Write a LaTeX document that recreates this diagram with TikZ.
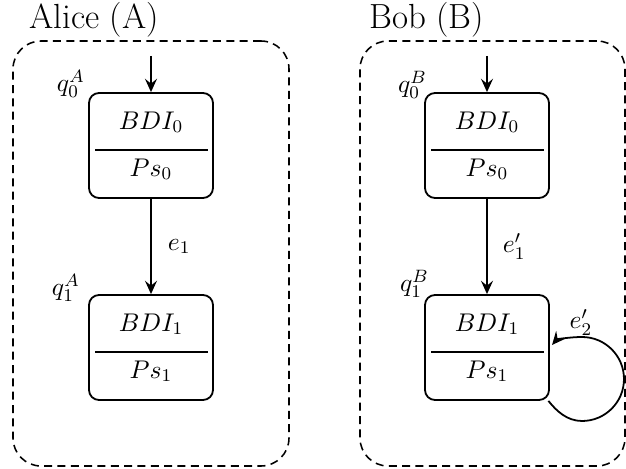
\RequirePackage{fix-cm}
\documentclass[tikz,border=0pt]{standalone}
\usepackage{fontspec}
\usetikzlibrary{arrows.meta,calc}
\newcommand\mkstate[3]{%
  \node[state] (#1) at (#2) {};
  \node[mtext, anchor=base] (#1top) at ($(#1.north)+(0,37)$) {$BDI_{#3}$};
  \node[mtext, anchor=base] (#1bot) at ($(#1.north)+(0,84)$) {$Ps_{#3}$};
  \draw[divider] ($(#1.west)+(7,4.5)$) -- ($(#1.east)+(-6,4.5)$);
}
\begin{document}
\begin{tikzpicture}[x=0.45pt,y=-0.45pt,
  state/.style={draw, line width=0.8pt, rounded corners=4.5pt, minimum width=55.8pt, minimum height=47.25pt, inner sep=0},
  group/.style={draw, line width=0.7pt, dash pattern=on 3.6pt off 2.4pt, rounded corners=12.6pt, inner sep=0},
  mtext/.style={inner sep=0, font=\fontsize{11.5}{14}\selectfont},
  title/.style={inner sep=0, anchor=base west, font=\rmfamily\fontsize{15.7}{18}\selectfont},
  conn/.style={line width=0.8pt, -{Stealth[length=6pt,width=5.4pt,inset=2.2pt]}},
  divider/.style={line width=0.8pt}]
\useasboundingbox (0,0) rectangle (626,469);

\node[group, minimum width=124.2pt, minimum height=191.25pt] (GA) at (151,253.5) {};
\node[group, minimum width=119.25pt, minimum height=191.25pt] (GB) at (492.5,253.5) {};

\node[title] (TA) at (29,29) {Alice (A)};
\node[title] (TB) at (369,29) {Bob (B)};

\mkstate{A0}{151,145.5}{0}
\mkstate{A1}{151,347.5}{1}
\mkstate{B0}{487,145.5}{0}
\mkstate{B1}{487,347.5}{1}

\node[mtext, anchor=south east] (qA0) at ($(A0.north west)+(-3,6)$) {$q_0^A$};
\node[mtext, anchor=south east] (qA1) at ($(A1.north west)+(-8,8)$) {$q_1^A$};
\node[mtext, anchor=south east] (qB0) at ($(B0.north west)+(3,7)$) {$q_0^B$};
\node[mtext, anchor=south east] (qB1) at ($(B1.north west)+(5,4)$) {$q_1^B$};

\coordinate (A0in) at (151,56);
\coordinate (B0in) at (487,56);
\draw[conn] (A0in) -- (A0.north);
\draw[conn] (B0in) -- (B0.north);
\draw[conn] (A0.south) -- node[mtext, anchor=west, xshift=7.2pt] (e1) {$e_1$} (A1.north);
\draw[conn] (B0.south) -- node[mtext, anchor=west, xshift=6.8pt] (e1p) {$e'_1$} (B1.north);
\draw[conn, shorten >=1.5pt] (B1.-41) .. controls (556.5,411) and (567,421) .. (582,421)
  .. controls (605.2,421) and (624,402.2) .. (624,379)
  .. controls (624,355.8) and (605.2,337) .. (582,337)
  .. controls (570.6,337) and (556.9,339.3) .. (B1.east);
\node[mtext] (e2p) at ($(B1.center)+(94,-25)$) {$e'_2$};
\end{tikzpicture}
\end{document}
